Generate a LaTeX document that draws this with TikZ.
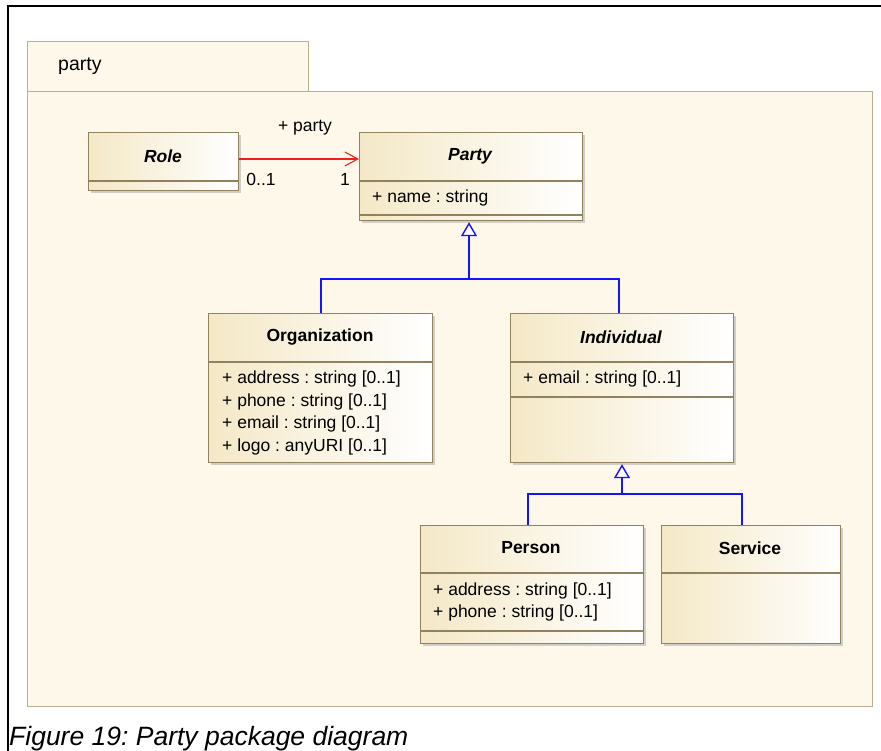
\documentclass[tikz,border=0pt]{standalone}
\usepackage{fontspec}
\setmainfont{Liberation Sans}
\usetikzlibrary{arrows.meta,shadows}
\frenchspacing

\definecolor{pkgfill}{RGB}{254,248,234}
\definecolor{pkgline}{RGB}{185,175,145}
\definecolor{clsfill}{RGB}{244,232,198}
\definecolor{clsline}{RGB}{145,130,95}
\definecolor{genblue}{RGB}{20,20,255}
\definecolor{assocred}{RGB}{240,30,30}

\tikzset{pkg/.style={draw=pkgline,fill=pkgfill,line width=1.2pt,anchor=north west,inner sep=0pt},
cls/.style={draw=clsline,line width=1.2pt,left color=clsfill,right color=white,anchor=north west,inner sep=0pt,
  drop shadow={shadow xshift=2pt,shadow yshift=-2pt,fill=black!35,opacity=0.5}},
divider/.style={draw=clsline,line width=1.2pt},
class name/.style={font=\fontsize{17.5}{21}\selectfont\bfseries,inner sep=0pt},
abstract name/.style={font=\fontsize{17.5}{21}\selectfont\bfseries\itshape,inner sep=0pt},
attr/.style={font=\fontsize{17.5}{21}\selectfont,anchor=west,inner sep=0pt},
end label/.style={font=\fontsize{17.5}{21}\selectfont,inner sep=0pt},
assoc/.style={draw=assocred,line width=1.1pt,-{Straight Barb[length=13pt,width=14pt,line width=1.1pt]}},
gen/.style={draw=genblue,line width=1.4pt},
gen tip/.style={-{Triangle[open,length=14pt,width=16pt,line width=1.4pt,fill=white]}},
caption/.style={font=\fontsize{26.5}{30}\selectfont\itshape,anchor=base west,inner sep=0pt}}

\begin{document}
\begin{tikzpicture}[x=1pt,y=-1pt]
\useasboundingbox (0,0) rectangle (881,751);

%% outer frame
\draw [line width=1.3pt] (8,751) -- (8,6) -- (881,6);

%% package
\node [pkg,minimum width=281,minimum height=50] (pkgtab) at (27,41) {};
\node [pkg,minimum width=845,minimum height=615] (pkgbody) at (27,91) {};
\node [attr,font=\fontsize{19.5}{23}\selectfont] (pkgname) at (58,66) {party};

%% class boxes
\node [cls,minimum width=150,minimum height=58] (role) at (88,132) {};
\node [cls,minimum width=223,minimum height=88] (party) at (359,132) {};
\node [cls,minimum width=224,minimum height=149] (org) at (208,313) {};
\node [cls,minimum width=223,minimum height=149] (indiv) at (510,313) {};
\node [cls,minimum width=223,minimum height=118] (person) at (420,525) {};
\node [cls,minimum width=179,minimum height=118] (service) at (661,525) {};

%% compartments
\draw [divider] (role.west |- 0,181) -- (role.east |- 0,181);
\draw [divider] (party.west |- 0,181) -- (party.east |- 0,181);
\draw [divider] (party.west |- 0,215) -- (party.east |- 0,215);
\draw [divider] (org.west |- 0,362) -- (org.east |- 0,362);
\draw [divider] (indiv.west |- 0,362) -- (indiv.east |- 0,362);
\draw [divider] (indiv.west |- 0,397) -- (indiv.east |- 0,397);
\draw [divider] (person.west |- 0,573) -- (person.east |- 0,573);
\draw [divider] (person.west |- 0,631) -- (person.east |- 0,631);
\draw [divider] (service.west |- 0,573) -- (service.east |- 0,573);

%% class names
\node [abstract name] (rolename) at (163,156) {Role};
\node [abstract name] (partyname) at (470,156) {Party};
\node [class name] (orgname) at (320,337) {Organization};
\node [abstract name] (indivname) at (621,337) {Individual};
\node [class name] (personname) at (531,548) {Person};
\node [class name] (servicename) at (750,548) {Service};

%% attributes
\node [attr] (partya1) at (372,198) {+ name : string};
\node [attr] (orga1) at (222,379) {+ address : string [0..1]};
\node [attr] (orga2) at (222,401.5) {+ phone : string [0..1]};
\node [attr] (orga3) at (222,424) {+ email : string [0..1]};
\node [attr] (orga4) at (222,446.5) {+ logo : anyURI [0..1]};
\node [attr] (indiva1) at (523,379) {+ email : string [0..1]};
\node [attr] (persona1) at (433,590.5) {+ address : string [0..1]};
\node [attr] (persona2) at (433,613) {+ phone : string [0..1]};

%% association
\coordinate (ay) at (0,159);
\draw [assoc] (role.east |- ay) -- (party.west |- ay);
\node [end label] (assocname) at (305,128) {+ party};
\node [end label] (rolemult) at (261,179) {0..1};
\node [end label] (partymult) at (345,179) {1};

%% generalizations
\coordinate (g1) at (469,279);
\coordinate (o1) at (321,279);
\coordinate (i1) at (619,279);
\draw [gen] (org.north -| o1) -- (o1) -- (i1) -- (indiv.north -| i1);
\draw [gen,gen tip] (g1) -- ([yshift=-1pt]party.south -| g1);

\coordinate (g2) at (622,494);
\coordinate (p1) at (528,494);
\coordinate (s1) at (742,494);
\draw [gen] (person.north -| p1) -- (p1) -- (s1) -- (service.north -| s1);
\draw [gen,gen tip] (g2) -- ([yshift=-1pt]indiv.south -| g2);

%% caption
\node [caption] (cap) at (9,745) {Figure 19: Party package diagram};

\end{tikzpicture}
\end{document}
